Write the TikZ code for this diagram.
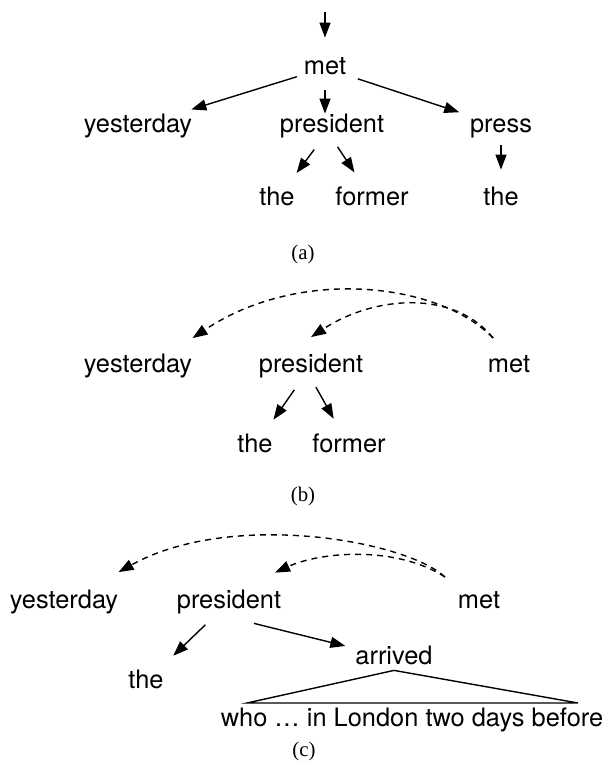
\documentclass[tikz,border=0pt]{standalone}
\usepackage{fontspec}
\setmainfont{TeX Gyre Heros}
\newfontfamily\capfont{Liberation Serif}
\usetikzlibrary{arrows.meta}

\begin{document}
\begin{tikzpicture}[x=0.5pt,y=-0.5pt,
  every node/.style={inner sep=0pt,text height=9.3pt,text depth=2.7pt,font=\fontsize{12.7pt}{15pt}\selectfont},
  subcap/.style={font=\capfont\fontsize{10.4pt}{12pt}\selectfont},
  dep/.style={line width=0.7pt,-{Triangle[length=7.5pt,width=5.5pt]}},
  far/.style={dep,dash pattern=on 3pt off 2.5pt}]
  \useasboundingbox (0,0) rectangle (609,769);

  % (a)
  \coordinate (top) at (325,12);
  \node (met1) at (325,68) {met};
  \node (yes1) at (138,126) {yesterday};
  \node (pre1) at (332,126) {president};
  \node (prs1) at (501,126) {press};
  \node (the1) at (277,199) {the};
  \node (for1) at (372,199) {former};
  \node (the2) at (501,199) {the};
  \node[subcap] (capa) at (303,253) {(a)};

  \draw[dep,shorten >=9pt] (top) -- (met1);
  \draw[dep,shorten <=3.5pt,shorten >=7pt] (met1) -- (yes1);
  \draw[dep,shorten <=5pt] (met1) -- (met1 |- pre1.north);
  \draw[dep,shorten <=6pt,shorten >=5.5pt] (met1) -- (prs1);
  \draw[dep,shorten <=7pt,shorten >=8.5pt] (pre1) -- (the1);
  \draw[dep,shorten <=5pt,shorten >=8.5pt] (pre1.south) -- (for1);
  \draw[dep,shorten <=3.5pt,shorten >=8.5pt] (prs1) -- (the2);

  % (b)
  \coordinate (bs) at (493,338);
  \node (yes2) at (138,366) {yesterday};
  \node (pre2) at (311,366) {president};
  \node (met2) at (509,366) {met};
  \node (the3) at (255,446) {the};
  \node (for2) at (349,446) {former};
  \node[subcap] (capb) at (303,495) {(b)};

  \draw[far] (bs) .. controls (440,283) and (300,266) .. ([yshift=7.75pt]yes2.north east);
  \draw[far] (bs) .. controls (455,290) and (375,295) .. ([yshift=8.25pt]pre2.north);
  \draw[dep,shorten <=7pt,shorten >=8.5pt] (pre2) -- (the3);
  \draw[dep,shorten <=5pt,shorten >=8.5pt] (pre2.south) -- (for2);

  % (c)
  \coordinate (cs) at (445,577);
  \node (yes3) at (64,602) {yesterday};
  \node (pre3) at (229,602) {president};
  \node (met3) at (479,602) {met};
  \node (the4) at (146,682) {the};
  \node (arr3) at (394,658) {arrived};
  \node (who3) at (412,720) {who … in London two days before};
  \node[subcap] (capc) at (304,750) {(c)};
  \coordinate (tl) at (247,703);
  \coordinate (tr) at (578,703);

  \draw[far] (cs) .. controls (405,540) and (230,510) .. ([yshift=8.75pt]yes3.north east);
  \draw[far] (cs) .. controls (395,545) and (320,552) .. ([xshift=23pt,yshift=8.5pt]pre3.north);
  \draw[dep,shorten <=7.5pt,shorten >=10pt] (pre3) -- (the4);
  \draw[dep,shorten >=5pt] ([xshift=12.5pt,yshift=-4.5pt]pre3.south) -- (arr3);
  \draw[line width=0.7pt] (arr3.south) -- (tl) -- (tr) -- cycle;
\end{tikzpicture}
\end{document}
